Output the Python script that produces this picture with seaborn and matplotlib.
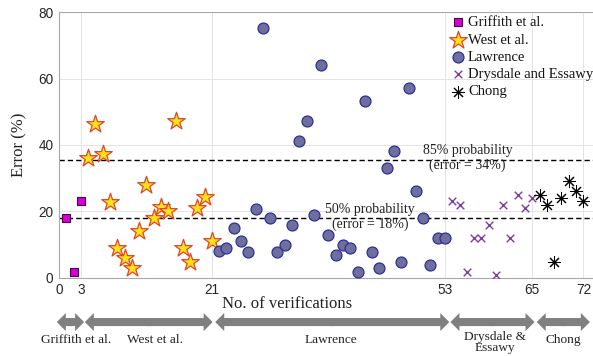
import matplotlib
matplotlib.use("Agg")
import matplotlib.pyplot as plt
import seaborn as sns
from matplotlib.patches import FancyArrowPatch, ArrowStyle

# ---------------- data ----------------
griffith_x = [1, 2, 3]
griffith_y = [17.8, 1.8, 23.0]

west_x = [4, 5, 6, 7, 8, 9, 10, 11, 12, 13, 14, 15, 16, 17, 18, 19, 20, 21]
west_y = [36.0, 46.3, 37.3, 22.8, 8.9, 6.0, 3.0, 14.0, 28.0, 17.8, 21.3, 20.1,
          47.2, 8.9, 4.8, 21.1, 24.2, 11.1]

lawrence_x = [22, 23, 24, 25, 26, 27, 28, 29, 30, 31, 32, 33, 34, 35, 36, 37,
              38, 39, 40, 41, 42, 43, 44, 45, 46, 47, 48, 49, 50, 51, 52, 53]
lawrence_y = [8.1, 8.8, 14.8, 11.0, 7.8, 20.8, 75.2, 17.9, 7.7, 9.8, 15.8, 41.1,
              47.1, 19.0, 64.2, 12.9, 6.8, 9.8, 8.8, 1.8, 53.3, 7.8, 2.9, 33.1,
              38.2, 4.8, 57.3, 26.0, 17.9, 3.8, 11.8, 11.8]

drysdale_x = [54, 55, 56, 57, 58, 59, 60, 61, 62, 63, 64, 65]
drysdale_y = [23.2, 22.0, 1.8, 11.8, 11.8, 15.9, 0.8, 22.0, 11.8, 25.0, 21.0, 24.0]

chong_x = [66, 67, 68, 69, 70, 71, 72]
chong_y = [25.0, 22.0, 4.8, 24.0, 29.1, 26.0, 23.0]

group_bounds = [0, 3, 21, 53, 65, 72]
group_names = ["Griffith et al.", "West et al.", "Lawrence", "Drysdale &\nEssawy", "Chong"]
group_label_x = [2.4, 13.2, 37.3, 59.9, 69.2]
arrow_starts = [-0.3, 3.55, 21.45, 53.75, 65.6]
arrow_ends = [3.45, 21.1, 53.6, 65.3, 72.9]

p50_value = 18.0
p85_value = 35.5
p50_text = "50% probability\n(error = 18%)"
p85_text = "85% probability\n(error = 34%)"

yticks = [0, 20, 40, 60, 80]

# ---------------- style ----------------
sns.set_theme(style="white")
plt.rcParams["font.family"] = ["Liberation Sans", "DejaVu Sans"]
serif = ["Liberation Serif", "DejaVu Serif"]

fig = plt.figure(figsize=(5.93, 3.56), dpi=100)
ax = fig.add_axes([0.0995, 0.2205, 0.9005, 0.745])

ax.set_xlim(0, 73.33)
ax.set_ylim(0, 80)

# grid
for gx in group_bounds:
    ax.axvline(gx, color="#E4E4E4", lw=0.7, zorder=0)
for gy in yticks:
    ax.axhline(gy, color="#E4E4E4", lw=0.7, zorder=0)

# threshold lines
for val in (p50_value, p85_value):
    ax.axhline(val, color="black", lw=1.0, ls=(0, (3.8, 2.2)), zorder=1)

sns.scatterplot(x=griffith_x, y=griffith_y, marker="s", s=34, color="#D400D4",
                edgecolor="#4A0050", linewidth=0.8, label="Griffith et al.", ax=ax, zorder=3)
sns.scatterplot(x=west_x, y=west_y, marker="*", s=175, color="#FFE21A",
                edgecolor="#E0452A", linewidth=0.9, label="West et al.", ax=ax, zorder=3)
sns.scatterplot(x=lawrence_x, y=lawrence_y, marker="o", s=62, color="#6F6F9D",
                edgecolor="#2E2E98", linewidth=0.9, label="Lawrence", ax=ax, zorder=3)
sns.scatterplot(x=drysdale_x, y=drysdale_y, marker="x", s=30, color="#7E3C9E",
                linewidth=1.0, label="Drysdale and Essawy", ax=ax, zorder=3)
sns.scatterplot(x=chong_x, y=chong_y, marker=(8, 2, 0), s=75, color="black",
                linewidth=0.75, label="Chong", ax=ax, zorder=3)

# annotations
ax.text(56.1, 36.1, p85_text, ha="center", va="center", fontsize=10,
        family=serif, color="#222222", linespacing=1.15, zorder=4)
ax.text(42.7, 18.2, p50_text, ha="center", va="center", fontsize=10,
        family=serif, color="#222222", linespacing=1.15, zorder=4)

# ticks
ax.set_xticks(group_bounds)
ax.set_yticks(yticks)
ax.tick_params(axis="both", direction="in", length=3, width=0.6, color="#9A9A9A",
               labelsize=9.8, labelcolor="#262626", pad=4)

for side in ("left", "bottom", "top"):
    ax.spines[side].set_color("#A8A8A8")
    ax.spines[side].set_linewidth(0.8)
ax.spines["right"].set_visible(False)

ax.set_ylabel("Error (%)", family=serif, fontsize=12, color="#222222")
ax.yaxis.set_label_coords(-0.06, 0.5)
ax.set_xlabel("No. of verifications", family=serif, fontsize=12, color="#222222")
ax.xaxis.set_label_coords(0.4275, -0.07)

# legend
leg = ax.legend(loc="upper left", bbox_to_anchor=(450.5 / 593, 1 - 16 / 356),
                bbox_transform=fig.transFigure, frameon=False, borderpad=0,
                borderaxespad=0, handlelength=1.0, handletextpad=0.2,
                labelspacing=0.28, prop={"family": serif, "size": 10.5})
for t in leg.get_texts():
    t.set_color("#111111")

# group arrows below the axis
trans = ax.get_xaxis_transform()
arrow_y = -0.168
label_top = -0.213
style = ArrowStyle("simple", head_length=6.5, head_width=13, tail_width=5.8)
for s, e in zip(arrow_starts, arrow_ends):
    mid = (s + e) / 2
    for end, back in ((s, 0.3), (e, -0.3)):
        p = FancyArrowPatch((mid + back, arrow_y), (end, arrow_y), arrowstyle=style,
                            mutation_scale=1, transform=trans, color="#808080",
                            lw=0, shrinkA=0, shrinkB=0, clip_on=False)
        ax.add_patch(p)
for name, lx in zip(group_names, group_label_x):
    multiline = "\n" in name
    ax.text(lx, label_top + (0.012 if multiline else 0.0), name, transform=trans,
            ha="center", va="top", fontsize=9.6, family=serif, color="#222222",
            clip_on=False, linespacing=0.92 if multiline else 1.15)

fig.savefig("out.png", dpi=100)
